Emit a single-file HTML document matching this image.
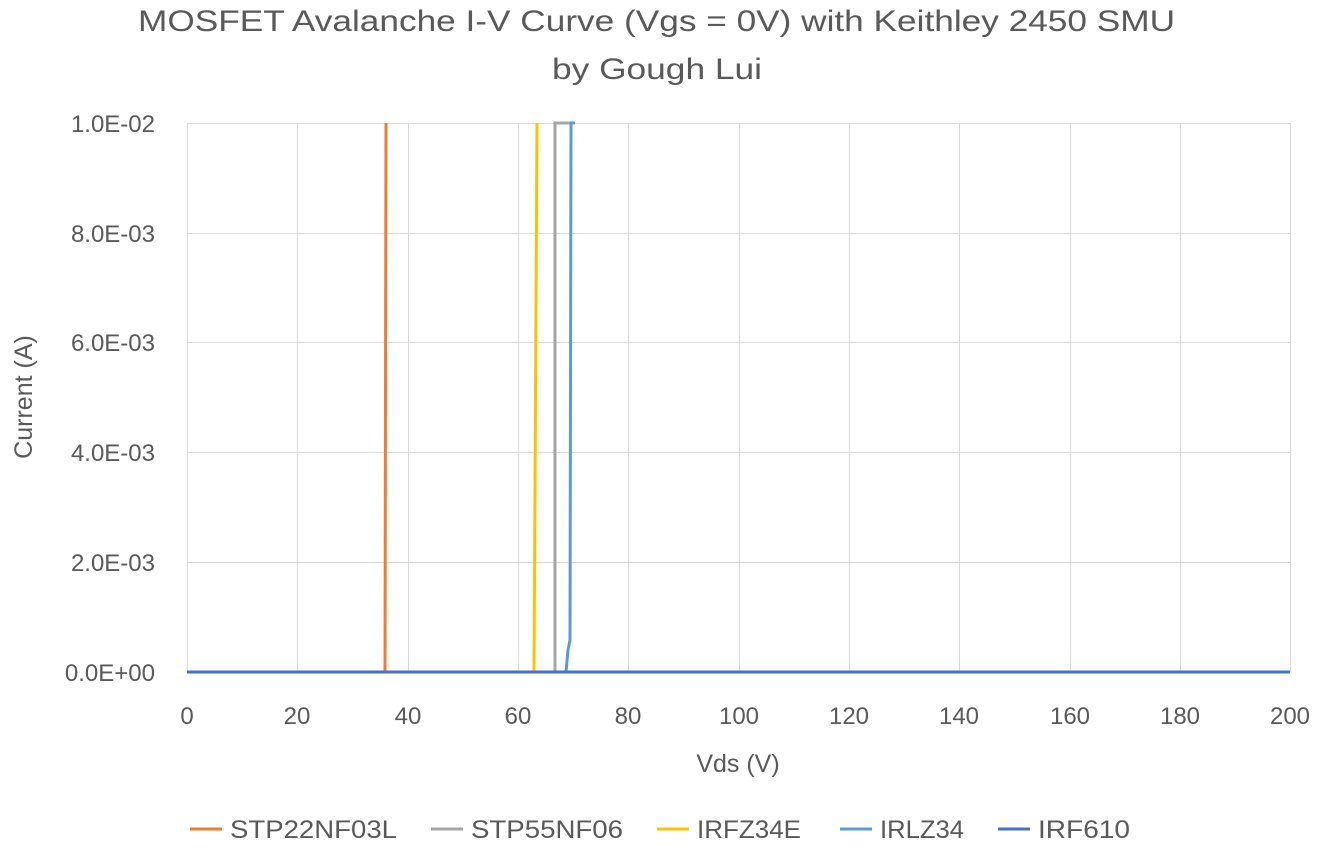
<!DOCTYPE html>
<html><head><meta charset="utf-8"><style>
body{margin:0;background:#fff;}
svg text{font-family:"Liberation Sans",sans-serif;fill:#595959;}
</style></head><body>
<svg width="1319" height="848" xmlns="http://www.w3.org/2000/svg">
<rect width="1319" height="848" fill="#fff"/>
<text x="138" y="31" font-size="30" textLength="1037" lengthAdjust="spacingAndGlyphs">MOSFET Avalanche I-V Curve (Vgs = 0V) with Keithley 2450 SMU</text>
<text x="552" y="79" font-size="30" textLength="210" lengthAdjust="spacingAndGlyphs">by Gough Lui</text>
<g stroke="#d9d9d9" stroke-width="1">
<line x1="187" y1="123.5" x2="1290" y2="123.5"/>
<line x1="187" y1="233.5" x2="1290" y2="233.5"/>
<line x1="187" y1="342.5" x2="1290" y2="342.5"/>
<line x1="187" y1="452.5" x2="1290" y2="452.5"/>
<line x1="187" y1="562.5" x2="1290" y2="562.5"/>
<line x1="187.5" y1="123" x2="187.5" y2="672"/>
<line x1="297.5" y1="123" x2="297.5" y2="672"/>
<line x1="408.5" y1="123" x2="408.5" y2="672"/>
<line x1="518.5" y1="123" x2="518.5" y2="672"/>
<line x1="628.5" y1="123" x2="628.5" y2="672"/>
<line x1="739.5" y1="123" x2="739.5" y2="672"/>
<line x1="849.5" y1="123" x2="849.5" y2="672"/>
<line x1="959.5" y1="123" x2="959.5" y2="672"/>
<line x1="1070.5" y1="123" x2="1070.5" y2="672"/>
<line x1="1180.5" y1="123" x2="1180.5" y2="672"/>
<line x1="1290.5" y1="123" x2="1290.5" y2="672"/>
</g>
<g font-size="24" text-anchor="end">
<text x="155" y="132">1.0E-02</text>
<text x="155" y="242">8.0E-03</text>
<text x="155" y="351">6.0E-03</text>
<text x="155" y="461">4.0E-03</text>
<text x="155" y="571">2.0E-03</text>
<text x="155" y="681">0.0E+00</text>
</g>
<g font-size="24" text-anchor="middle">
<text x="187" y="724">0</text><text x="297" y="724">20</text><text x="408" y="724">40</text>
<text x="518" y="724">60</text><text x="628" y="724">80</text><text x="739" y="724">100</text>
<text x="849" y="724">120</text><text x="959" y="724">140</text><text x="1070" y="724">160</text>
<text x="1180" y="724">180</text><text x="1290" y="724">200</text>
</g>
<text x="738" y="772" font-size="25" text-anchor="middle">Vds (V)</text>
<text transform="translate(32,397) rotate(-90)" font-size="25" text-anchor="middle">Current (A)</text>
<g fill="none" stroke-width="3">
<polyline stroke="#ED7D31" points="187,672 385,672 386,123"/>
<polyline stroke="#A5A5A5" points="187,672 555,672 555,123 572,123"/>
<polyline stroke="#FFC000" points="187,672 534,672 537,123"/>
<polyline stroke="#5B9BD5" points="187,672 566,672 568,650 570,640 571,123 575,123"/>
<polyline stroke="#4472C4" points="187,672 1290,672"/>
</g>
<g font-size="25">
<line x1="190" y1="829" x2="222" y2="829" stroke="#ED7D31" stroke-width="3"/><text x="230" y="838" textLength="167" lengthAdjust="spacingAndGlyphs">STP22NF03L</text>
<line x1="431" y1="829" x2="463" y2="829" stroke="#A5A5A5" stroke-width="3"/><text x="471" y="838" textLength="152" lengthAdjust="spacingAndGlyphs">STP55NF06</text>
<line x1="657" y1="829" x2="689" y2="829" stroke="#FFC000" stroke-width="3"/><text x="697" y="838" textLength="104" lengthAdjust="spacingAndGlyphs">IRFZ34E</text>
<line x1="840" y1="829" x2="872" y2="829" stroke="#5B9BD5" stroke-width="3"/><text x="880" y="838" textLength="84" lengthAdjust="spacingAndGlyphs">IRLZ34</text>
<line x1="998" y1="829" x2="1030" y2="829" stroke="#4472C4" stroke-width="3"/><text x="1038" y="838" textLength="92" lengthAdjust="spacingAndGlyphs">IRF610</text>
</g>
</svg>
</body></html>
